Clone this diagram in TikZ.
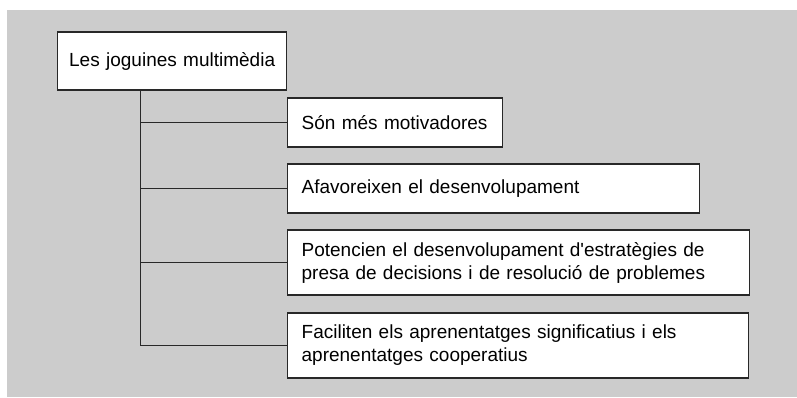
\documentclass[tikz,border=0pt]{standalone}
\usepackage{fontspec}
\setmainfont{Liberation Sans}
\usepackage{tikz}
\definecolor{bggray}{RGB}{204,204,204}
\definecolor{linegray}{RGB}{40,40,40}

\begin{document}
\begin{tikzpicture}[x=1pt,y=-1pt,
    box/.style={draw=linegray, line width=1.3pt, fill=white, rectangle,
      inner xsep=14pt, inner ysep=0pt, align=left, anchor=west,
      font=\fontsize{19}{23}\selectfont},
    link/.style={draw=linegray, line width=1pt}]
  \useasboundingbox (0,0) rectangle (797,397);
  % Background
  \fill[bggray] (7,10) rectangle (797,397);

  % Boxes
  \node[box, inner xsep=6pt, minimum width=229pt, minimum height=58pt, text width=217pt, align=center]
    (root) at (57,61) {Les joguines multimèdia};
  \node[box, minimum width=215pt, minimum height=49pt, text width=187pt]
    (b1) at (287,122.5) {Són més motivadores};
  \node[box, minimum width=412pt, minimum height=49pt, text width=384pt]
    (b2) at (287,188.5) {Afavoreixen el desenvolupament};
  \node[box, minimum width=462pt, minimum height=65pt, text width=434pt]
    (b3) at (287,262.5) {Potencien el desenvolupament d\textquotesingle estratègies de\\presa de decisions i de resolució de problemes};
  \node[box, minimum width=461pt, minimum height=65pt, text width=433pt]
    (b4) at (287,345.5) {Faciliten els aprenentatges significatius i els\\aprenentatges cooperatius};

  % Tree lines
  \coordinate (trunk) at (140,90);
  \foreach \b in {b1,b2,b3,b4}
    \draw[link] (trunk) |- (\b.west);
\end{tikzpicture}
\end{document}
